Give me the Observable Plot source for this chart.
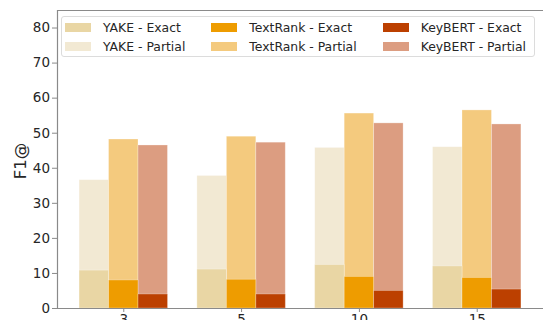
<!DOCTYPE html>
<html>
<head>
<meta charset="utf-8">
<script src="https://cdn.jsdelivr.net/npm/d3@7"></script>
<script src="https://cdn.jsdelivr.net/npm/@observablehq/plot@0.6"></script>
<style>
  html, body { margin: 0; padding: 0; background: #fff; }
  #chart { position: relative; width: 543px; height: 320px; overflow: hidden; font-family: "DejaVu Sans", sans-serif; color: #262626; }
  #ylabel { position: absolute; left: 20px; top: 161px; transform: translate(-50%, -50%) rotate(-90deg); font-size: 16.5px; white-space: nowrap; }
  #legend { position: absolute; left: 61px; top: 16px; width: 474px; height: 41px; border: 1px solid #dcdcdc; border-radius: 3px; background: rgba(255,255,255,0.8); box-sizing: border-box; }
  #legend .grid { position: absolute; left: 3px; top: 1px; display: grid; grid-template-rows: 19px 19px; grid-auto-flow: column; column-gap: 26px; }
  #legend .item { display: flex; align-items: center; font-size: 12.4px; }
  #legend .sw { width: 26px; height: 9px; margin-right: 12px; flex: none; }
</style>
</head>
<body>
<div id="chart">
  <div id="ylabel">F1@</div>
  <div id="legend"><div class="grid"></div></div>
</div>
<script>
// Cut-off k for F1@k
const categories = ["3", "5", "10", "15"];
const methods = ["YAKE", "TextRank", "KeyBERT"];

// F1 scores (%) per cut-off
const yakeExact = [10.8, 11.1, 12.4, 12.0];
const yakePartial = [36.6, 37.8, 45.8, 46.0];
const textrankExact = [8.0, 8.2, 9.0, 8.7];
const textrankPartial = [48.2, 49.0, 55.6, 56.5];
const keybertExact = [4.0, 4.0, 5.0, 5.4];
const keybertPartial = [46.5, 47.3, 52.8, 52.5];

const yTicks = [0, 10, 20, 30, 40, 50, 60, 70, 80];

// Bar colours: exact = full colour, partial = half-tone of the same hue
const colors = {
  "YAKE - Exact": "#e9d6a4", "YAKE - Partial": "#f2e9d3",
  "TextRank - Exact": "#ee9c00", "TextRank - Partial": "#f4ca7e",
  "KeyBERT - Exact": "#bc4000", "KeyBERT - Partial": "#dc9d81"
};

const series = {
  YAKE: { Exact: yakeExact, Partial: yakePartial },
  TextRank: { Exact: textrankExact, Partial: textrankPartial },
  KeyBERT: { Exact: keybertExact, Partial: keybertPartial }
};

const barWidth = 0.25;
const xDomain = [-0.5625, categories.length - 1 + 0.5625];
const yDomain = [0, 85];

const rows = [];
for (const kind of ["Partial", "Exact"]) {
  methods.forEach((m, j) => {
    series[m][kind].forEach((v, i) => {
      const x1 = i + (j - 1.5) * barWidth;
      rows.push({ key: `${m} - ${kind}`, kind, value: v, x1, x2: x1 + barWidth });
    });
  });
}

const spine = "#8a8a8a";

const plot = Plot.plot({
  width: 543,
  height: 320,
  marginLeft: 57,
  marginRight: 0,
  marginTop: 10,
  marginBottom: 12,
  style: { fontFamily: "DejaVu Sans, sans-serif", color: "#262626", background: "transparent", overflow: "visible" },
  x: { type: "linear", domain: xDomain },
  y: { domain: yDomain },
  marks: [
    Plot.rect(rows.filter(d => d.kind === "Partial"), {
      x1: "x1", x2: "x2", y1: 0, y2: "value",
      fill: d => colors[d.key], stroke: "white", strokeOpacity: 0.35, strokeWidth: 0.8
    }),
    Plot.rect(rows.filter(d => d.kind === "Exact"), {
      x1: "x1", x2: "x2", y1: 0, y2: "value",
      fill: d => colors[d.key], stroke: "white", strokeOpacity: 0.35, strokeWidth: 0.8
    }),
    // axes frame: left, top and bottom spines
    Plot.ruleX([xDomain[0]], { stroke: spine, strokeWidth: 1.2 }),
    Plot.ruleY([yDomain[1]], { stroke: spine, strokeWidth: 1.2 }),
    Plot.ruleY([0], { stroke: spine, strokeWidth: 1.2 }),
    // tick marks
    Plot.axisX({ ticks: categories.map((_, i) => i), tickSize: 4, tickFormat: () => "", color: spine, label: null }),
    Plot.axisY({ ticks: yTicks, tickSize: 5, tickFormat: () => "", color: spine, label: null }),
    // tick labels
    Plot.axisX({ ticks: categories.map((_, i) => i), tickSize: 0, tickPadding: 6, tickFormat: i => categories[i], fontSize: 13.5, label: null }),
    Plot.axisY({ ticks: yTicks, tickSize: 0, tickPadding: 7.5, fontSize: 13.5, label: null })
  ]
});

const chart = document.getElementById("chart");
chart.insertBefore(plot, chart.firstChild);

// Legend: two rows, filled column by column
const grid = document.querySelector("#legend .grid");
for (const m of methods) {
  for (const kind of ["Exact", "Partial"]) {
    const key = `${m} - ${kind}`;
    const item = document.createElement("div");
    item.className = "item";
    const sw = document.createElement("span");
    sw.className = "sw";
    sw.style.background = colors[key];
    const label = document.createElement("span");
    label.textContent = key;
    item.append(sw, label);
    grid.append(item);
  }
}
</script>
</body>
</html>
